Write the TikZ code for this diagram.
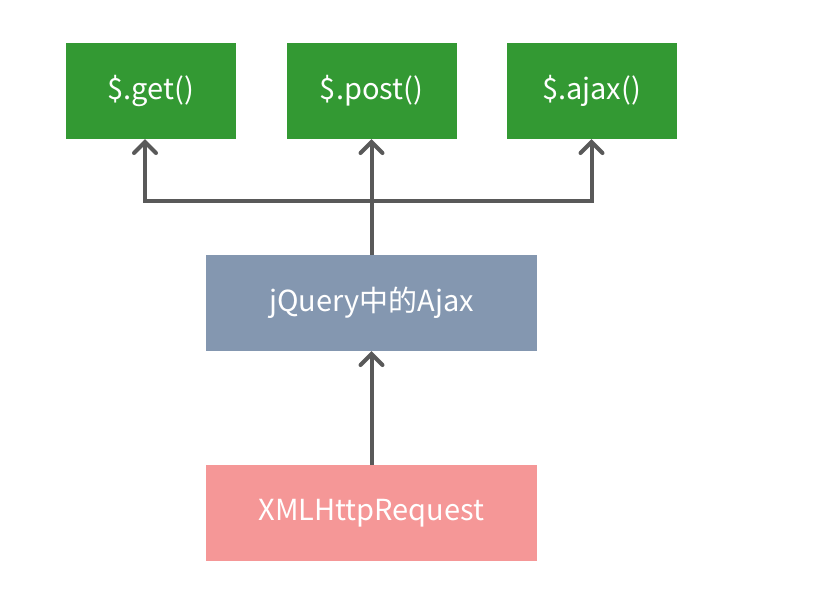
\documentclass[tikz,border=0pt]{standalone}
\usepackage{fontspec}
\setmainfont{Noto Sans CJK SC}
\usetikzlibrary{arrows.meta}

\definecolor{apigreen}{HTML}{339933}
\definecolor{jqblue}{HTML}{8497B0}
\definecolor{xhrpink}{HTML}{F59797}
\definecolor{linkgray}{HTML}{595959}

\begin{document}
\begin{tikzpicture}[
  x=1pt, y=-1pt,
  box/.style={
    inner sep=0pt, text=white,
    minimum width=170pt, minimum height=96pt,
    font=\fontsize{29}{33}\selectfont
  },
  wide/.style={box, minimum width=331pt},
  arr/.style={-{Straight Barb[length=11pt,width=22pt,line cap=round]},
    line width=4pt, draw=linkgray},
]
\useasboundingbox (0,0) rectangle (833,594);

%% --- jQuery methods -------------------------------------------------
\node[box, fill=apigreen] (get)  at (151, 91)   {\$.get()};
\node[box, fill=apigreen] (post) at (371.5, 91) {\$.post()};
\node[box, fill=apigreen] (ajax) at (591.5, 91) {\$.ajax()};

%% --- layers ---------------------------------------------------------
\node[wide, fill=jqblue]  (jq)  at (371.5, 303) {jQuery中的Ajax};
\node[wide, fill=xhrpink] (xhr) at (371.5, 513) {XMLHttpRequest};

%% --- connectors -----------------------------------------------------
\coordinate (fork) at (371.5, 201);

\draw[arr] (xhr.north) -- (jq.south);
\draw[arr] (jq.north) -- (post.south);
\draw[arr, line cap=round] (fork) -| ([xshift=-6pt]get.south);
\draw[arr, line cap=round] (fork) -| (ajax.south);

\end{tikzpicture}
\end{document}
